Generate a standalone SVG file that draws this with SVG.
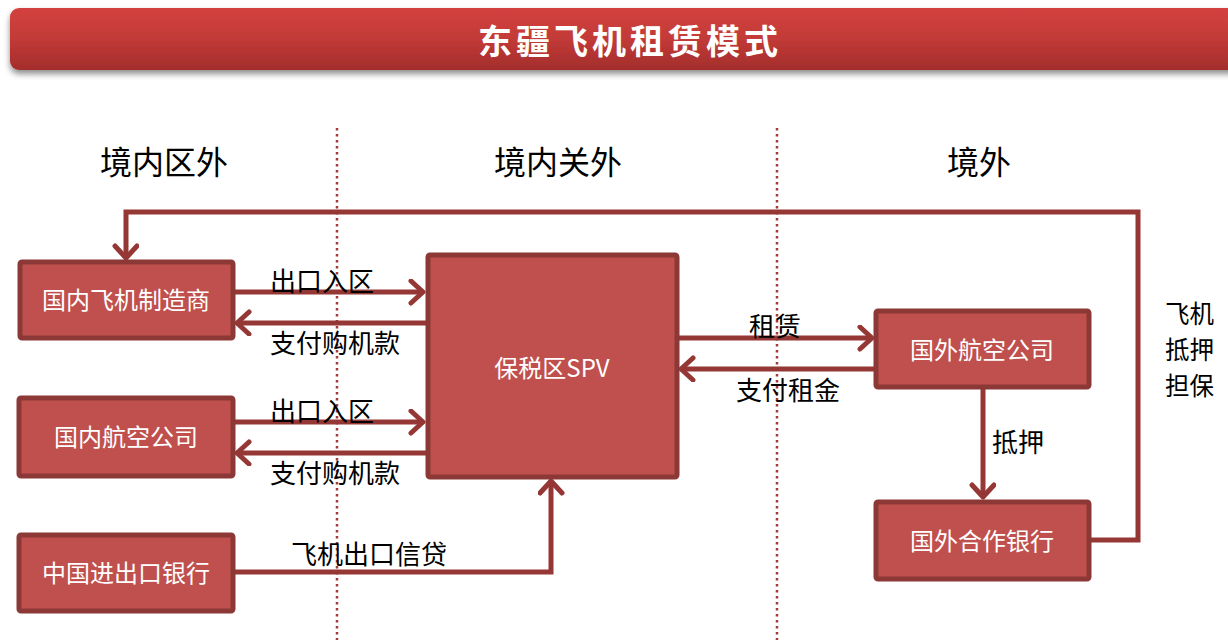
<svg xmlns="http://www.w3.org/2000/svg" width="1228" height="640" viewBox="0 0 1228 640">
<defs>
<linearGradient id="tg" x1="0" y1="0" x2="0" y2="1">
<stop offset="0" stop-color="#d3423f"/>
<stop offset="0.5" stop-color="#c23a37"/>
<stop offset="1" stop-color="#a32d2c"/>
</linearGradient>
<filter id="sh" x="-5%" y="-20%" width="110%" height="160%">
<feGaussianBlur in="SourceAlpha" stdDeviation="3"/>
<feOffset dx="0" dy="4"/>
<feComponentTransfer><feFuncA type="linear" slope="0.45"/></feComponentTransfer>
<feMerge><feMergeNode/><feMergeNode in="SourceGraphic"/></feMerge>
</filter>
<marker id="ah" markerUnits="userSpaceOnUse" markerWidth="20" markerHeight="28" refX="15" refY="13" orient="auto">
<path d="M3,2 L15,13 L3,24" fill="none" stroke="#953735" stroke-width="5" stroke-linecap="round" stroke-linejoin="round"/>
</marker>
<style>
.box{fill:#c0504d;stroke:#8c3836;stroke-width:5}
.nt{font-family:"Noto Sans CJK SC","Noto Sans",sans-serif;font-size:24px;fill:#ffffff;text-anchor:middle}
.lb{font-family:"Noto Sans CJK SC","Noto Sans",sans-serif;font-size:26px;fill:#000000}
.rl{font-family:"Noto Sans CJK SC","Noto Sans",sans-serif;font-size:24.5px;fill:#000000}
.hd{font-family:"Noto Sans CJK SC","Noto Sans",sans-serif;font-size:32px;fill:#000000;text-anchor:middle}
.cn{fill:none;stroke:#953735;stroke-width:5;stroke-linejoin:miter}
.dv{stroke:#a33b3b;stroke-width:2.5;stroke-dasharray:2.5,3.5}
</style>
</defs>
<rect width="1228" height="640" fill="#ffffff"/>
<g id="title">
<rect x="10" y="8" width="1240" height="62" rx="9" fill="url(#tg)" filter="url(#sh)"/>
<text x="630" y="54" font-family="'Noto Sans CJK SC',sans-serif" font-size="34" font-weight="bold" fill="#ffffff" text-anchor="middle" letter-spacing="4">东疆飞机租赁模式</text>
</g>
<g id="dividers">
<line class="dv" x1="337" y1="128" x2="337" y2="640"/>
<line class="dv" x1="777" y1="128" x2="777" y2="640"/>
</g>
<g id="headers">
<text class="hd" x="164" y="174">境内区外</text>
<text class="hd" x="558" y="174">境内关外</text>
<text class="hd" x="979" y="174">境外</text>
</g>
<g id="connectors">
<path class="cn" d="M1089,540 H1138 V212 H126 V258" marker-end="url(#ah)"/>
<path class="cn" d="M233,292 H423" marker-end="url(#ah)"/>
<path class="cn" d="M427,323 H237" marker-end="url(#ah)"/>
<path class="cn" d="M233,422 H423" marker-end="url(#ah)"/>
<path class="cn" d="M427,453 H237" marker-end="url(#ah)"/>
<path class="cn" d="M233,572 H551 V481" marker-end="url(#ah)"/>
<path class="cn" d="M677,338 H872" marker-end="url(#ah)"/>
<path class="cn" d="M876,369 H681" marker-end="url(#ah)"/>
<path class="cn" d="M983,387 V497" marker-end="url(#ah)"/>
</g>
<g id="labels">
<text class="lb" x="270" y="291">出口入区</text>
<text class="lb" x="270" y="353">支付购机款</text>
<text class="lb" x="270" y="421">出口入区</text>
<text class="lb" x="270" y="483">支付购机款</text>
<text class="lb" x="291" y="564">飞机出口信贷</text>
<text class="lb" x="749" y="336">租赁</text>
<text class="lb" x="736" y="400">支付租金</text>
<text class="lb" x="992" y="452">抵押</text>
<text class="rl" x="1165" y="323">飞机</text>
<text class="rl" x="1165" y="359">抵押</text>
<text class="rl" x="1165" y="395">担保</text>
</g>
<g id="n1"><rect class="box" x="20" y="262" width="213" height="76" rx="2"/><text class="nt" x="126" y="309">国内飞机制造商</text></g>
<g id="n2"><rect class="box" x="19" y="398" width="214" height="78" rx="2"/><text class="nt" x="126" y="446">国内航空公司</text></g>
<g id="n3"><rect class="box" x="19" y="535" width="214" height="76" rx="2"/><text class="nt" x="126" y="582">中国进出口银行</text></g>
<g id="spv"><rect class="box" x="428" y="255" width="249" height="222" rx="2"/><text class="nt" x="552" y="377">保税区SPV</text></g>
<g id="n4"><rect class="box" x="876" y="311" width="213" height="76" rx="2"/><text class="nt" x="982" y="359">国外航空公司</text></g>
<g id="n5"><rect class="box" x="876" y="502" width="213" height="77" rx="2"/><text class="nt" x="982" y="550">国外合作银行</text></g>
</svg>
